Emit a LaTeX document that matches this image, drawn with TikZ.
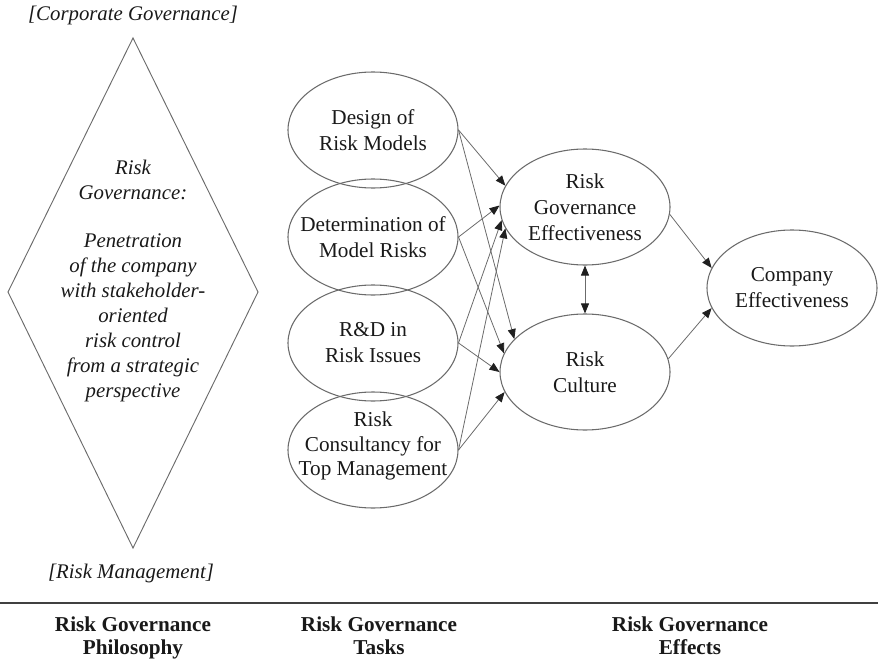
\documentclass[tikz,border=0pt]{standalone}
\usepackage{fontspec}
\setmainfont{Liberation Serif}
\usetikzlibrary{shapes.geometric,arrows.meta}

\definecolor{lineg}{gray}{0.42}
\definecolor{tipc}{gray}{0.12}
\definecolor{textc}{gray}{0.1}
\definecolor{rulec}{gray}{0.25}

\newcommand\ellfont{\fontsize{15.9}{19.5}\selectfont}
\newcommand\diamfont{\itshape\fontsize{15.6}{18.75}\selectfont}
\newcommand\headfont{\bfseries\fontsize{15.9}{17.3}\selectfont}

\begin{document}
\begin{tikzpicture}[x=0.75pt,y=-0.75pt,
  every node/.style={text=textc},
  % fixed-size ellipse; its caption is a separate centred node so long
  % lines do not widen the outline
  bubble/.style={ellipse, draw=lineg, line width=0.8pt,
    minimum width=127.5pt, minimum height=87pt, inner sep=0pt},
  caption/.style={align=center, font=\ellfont, inner sep=0pt},
  link/.style={draw=lineg, line width=0.6pt,
    -{Triangle[length=7.5pt,width=6pt,color=tipc]}},
  both/.style={draw=lineg, line width=0.6pt,
    {Triangle[length=7.5pt,width=6pt,color=tipc]}-{Triangle[length=7.5pt,width=6pt,color=tipc]}},
  diam/.style={draw=lineg, line width=0.7pt},
  bracket/.style={font=\diamfont},
  head/.style={align=center, font=\headfont, anchor=north}]

\useasboundingbox (0,0) rectangle (878,660);

% philosophy diamond
\coordinate (dtop) at (133,38);
\coordinate (dright) at (258,292);
\coordinate (dbot) at (133,548);
\coordinate (dleft) at (8,292);
\draw[diam] (dtop) -- (dright) -- (dbot) -- (dleft) -- cycle;
\node[align=center, font=\diamfont] (phil) at (133,281)
  {Risk\\Governance:\\[17pt]
   Penetration\\of the company\\with stakeholder-\\oriented\\risk control\\
   from a strategic\\perspective};
\node[bracket] (cg) at (133,15) {[Corporate Governance]};
\node[bracket] (rm) at (131,573) {[Risk Management]};

% tasks
\node[bubble] (design)  at (373,130) {};
\node[bubble] (determ)  at (373,237) {};
\node[bubble] (rnd)     at (373,343) {};
\node[bubble] (consult) at (373,450) {};
\node[caption] (designT)  at (design)  {Design of\\Risk Models};
\node[caption] (determT)  at (determ)  {Determination of\\Model Risks};
\node[caption] (rndT)     at (rnd)     {R\&D in\\Risk Issues};
\node[caption, font=\fontsize{15.9}{18.3}\selectfont] (consultT)
  at ([yshift=3pt]consult.center) {Risk\\Consultancy for\\Top Management};

% effects
\node[bubble] (rge) at (585,207) {};
\node[bubble] (rc)  at (585,372) {};
\node[bubble] (ce)  at (792,288) {};
\node[caption] (rgeT) at (rge) {Risk\\Governance\\Effectiveness};
\node[caption] (rcT)  at (rc)  {Risk\\Culture};
\node[caption] (ceT)  at (ce)  {Company\\Effectiveness};

% task -> effect links
\draw[link] (design.east)  -- (rge.165);
\draw[link] (design.east)  -- (rc.155);
\draw[link] (determ.east)  -- (rge.179);
\draw[link] (determ.east)  -- (rc.167);
\draw[link] (rnd.east)     -- (rge.189);
\draw[link] (rnd.east)     -- (rc.180);
\draw[link] (consult.east) -- (rge.195);
\draw[link] (consult.east) -- (rc.194);
\draw[both] (rge.south) -- (rc.north);
\draw[link] (rge.-5) -- (ce.166);
\draw[link] (rc.9)   -- (ce.194);

% footer
\draw[draw=rulec, line width=1.9pt] (0,603) -- (878,603);
\node[head] (h1) at (133,612) {Risk Governance\\Philosophy};
\node[head] (h2) at (379,612) {Risk Governance\\Tasks};
\node[head] (h3) at (690,612) {Risk Governance\\Effects};
\end{tikzpicture}
\end{document}
